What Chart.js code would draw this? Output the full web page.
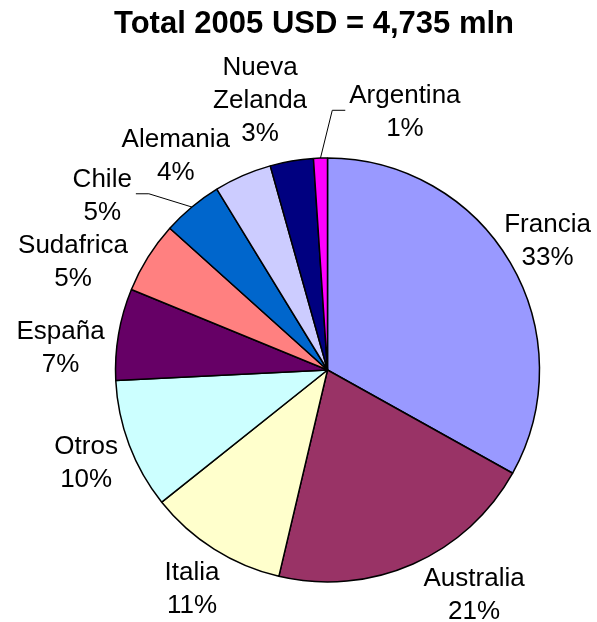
<!DOCTYPE html>
<html>
<head>
<meta charset="utf-8">
<script src="https://cdn.jsdelivr.net/npm/chart.js@4"></script>
<style>
  body { margin: 0; background: #fff; }
  canvas { display: block; }
</style>
</head>
<body>
<canvas id="pie" width="597" height="622"></canvas>
<script>
// Exportaciones de vino 2005, millones de USD
const titleText = "Total 2005 USD = 4,735 mln";
const categories = ["Francia", "Australia", "Italia", "Otros", "España", "Sudafrica", "Chile", "Alemania", "Nueva Zelanda", "Argentina"];
const valuesUsdMln = [1567, 975, 502, 470, 331, 258, 218, 208, 156, 50];
const sliceColors = ["#9999FF", "#993366", "#FFFFCC", "#CCFFFF", "#660066", "#FF8080", "#0066CC", "#CCCCFF", "#000080", "#FF00FF"];

// where each label sits: distance past the rim, and a nudge (degrees) off the slice middle
const labelGap = [44, 55, 44, 46, 56, 65, 74, 52, 68, 59];
const labelNudge = [-0.3, -9.5, -0.4, 0, -4.6, -8.9, -12.2, -11.5, -4.2, 18.5];
const withLeader = ["Chile", "Argentina"];

const total = valuesUsdMln.reduce((a, b) => a + b, 0);

const labelsPlugin = {
    id: "sliceLabels",
    afterDraw(chart) {
        const ctx = chart.ctx;
        ctx.save();
        ctx.fillStyle = "#000";
        ctx.textAlign = "center";
        ctx.textBaseline = "alphabetic";

        // title
        ctx.font = "bold 31px 'Liberation Sans', Arial, sans-serif";
        ctx.fillText(titleText, 314, 33);

        ctx.font = "26px 'Liberation Sans', Arial, sans-serif";
        const lh = 33;
        const arcs = chart.getDatasetMeta(0).data;
        arcs.forEach((arc, i) => {
            const p = arc.getProps(["x", "y", "startAngle", "endAngle", "outerRadius"], true);
            const mid = (p.startAngle + p.endAngle) / 2;
            const a = mid + labelNudge[i] * Math.PI / 180;
            const d = p.outerRadius + labelGap[i];
            const ax = p.x + Math.cos(a) * d;
            const ay = p.y + Math.sin(a) * d;

            const pct = Math.round(valuesUsdMln[i] / total * 100) + "%";
            const lines = categories[i].split(" ").concat([pct]);
            let w = 0;
            lines.forEach((t, k) => {
                w = Math.max(w, ctx.measureText(t).width);
                ctx.fillText(t, ax, ay + (k - (lines.length - 1) / 2) * lh + 9.3);
            });

            if (withLeader.includes(categories[i])) {
                const ex = p.x + Math.cos(mid) * p.outerRadius;
                const ey = p.y + Math.sin(mid) * p.outerRadius;
                const side = ex > ax ? 1 : -1;
                const edge = ax + side * w / 2;
                ctx.strokeStyle = "#000";
                ctx.lineWidth = 1;
                ctx.beginPath();
                ctx.moveTo(ex, ey);
                ctx.lineTo(edge + side * 17, ay);
                ctx.lineTo(edge + side * 4, ay);
                ctx.stroke();
            }
        });
        ctx.restore();
    }
};

new Chart(document.getElementById("pie"), {
    type: "pie",
    data: {
        labels: categories,
        datasets: [{
            data: valuesUsdMln,
            backgroundColor: sliceColors,
            borderColor: "#000",
            borderWidth: 1.5
        }]
    },
    options: {
        responsive: false,
        animation: false,
        radius: 212,
        layout: { padding: { left: 108, right: 50, top: 150, bottom: 32 } },
        plugins: {
            legend: { display: false },
            tooltip: { enabled: false },
            title: { display: false }
        }
    },
    plugins: [labelsPlugin]
});
</script>
</body>
</html>
